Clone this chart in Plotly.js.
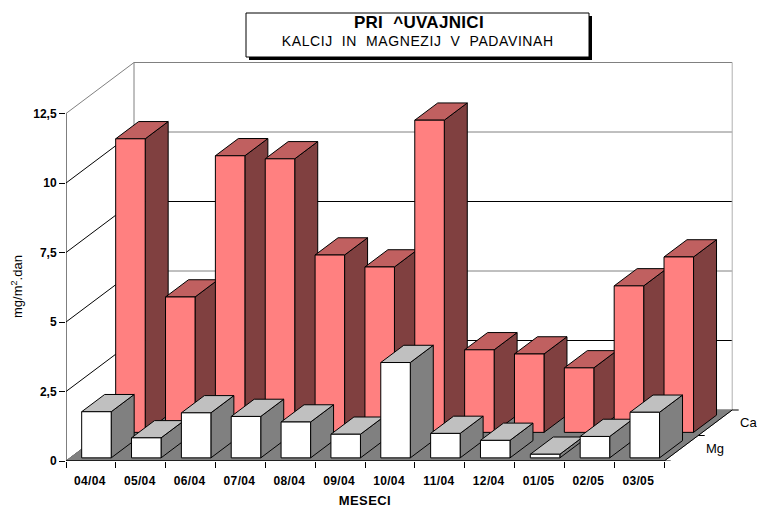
<!DOCTYPE html>
<html>
<head>
<meta charset="utf-8">
<script src="https://cdn.plot.ly/plotly-3.0.1.min.js"></script>
<style>html,body{margin:0;padding:0;background:#fff}#chart{width:757px;height:507px}.xtick text{letter-spacing:0.35px}</style>
</head>
<body>
<div id="chart"></div>
<script>
var categories = ["04/04","05/04","06/04","07/04","08/04","09/04","10/04","11/04","12/04","01/05","02/05","03/05"];
var caValues = [10.56,4.87,9.95,9.84,6.38,5.95,11.23,2.97,2.82,2.32,5.27,6.31];
var mgValues = [1.66,0.72,1.62,1.49,1.29,0.85,3.43,0.88,0.63,0.13,0.77,1.64];
var seriesNames = ["Mg","Ca"];
var yTickVals = [0,2.5,5,7.5,10,12.5];
var yTickText = ["0","2,5","5","7,5","10","12,5"];
var gridColors = ["#000000","#000000","#000000","#000000","#000000","#808080"];
var backGridColors = ["#808080","#000000","#808080","#000000","#808080","#808080"];

// oblique projection: one depth row shifts by these amounts in axis units
var plotW = 674, plotH = 411, pxPerCat = 49.85, pxPerVal = 27.8;
var rowDx = 34 / pxPerCat, rowDy = 25.5 / pxPerVal;
var barW = 0.592, barDepth = 0.676, barDrop = 1 / pxPerVal;
var nCat = categories.length, nRow = seriesNames.length;
function P(c, d, v) { return [c + d * rowDx, v + d * rowDy]; }

var traces = [];
function poly(pts, fill, stroke, width, name) {
  var tr = {type:'scatter', mode:'lines', hoverinfo:'skip', showlegend:false, name:name||'',
    x: pts.map(function(p){return p[0];}), y: pts.map(function(p){return p[1];}),
    line:{color:stroke, width:width, simplify:false}};
  if (fill) { tr.fill = 'toself'; tr.fillcolor = fill; }
  traces.push(tr);
}
function seg(a, b, color, width) { poly([a, b], null, color, width); }

// walls
yTickVals.forEach(function(v, i) {
  seg(P(0,0,v), P(0,nRow,v), gridColors[i], 1);
  seg(P(0,nRow,v), P(nCat,nRow,v), backGridColors[i], 1);
});
seg(P(0,nRow,0), P(0,nRow,12.5), "#808080", 1);
seg(P(nCat,nRow,0), P(nCat,nRow,12.5), "#b0b0b0", 1);
// floor
poly([P(0,0,0),P(nCat,0,0),P(nCat,nRow,0),P(0,nRow,0),P(0,0,0)], "#808080", "#808080", 1, "floor");
seg(P(nCat,0,0), P(nCat,nRow,0), "#000000", 1);

function drawRow(vals, row, front, side, top, label) {
  var m = (1 - barDepth) / 2, d0 = row + m, d1 = row + m + barDepth;
  vals.forEach(function(val, i) {
    var c0 = i + (1 - barW) / 2, c1 = c0 + barW;
    var b = -barDrop, v = val - barDrop;
    poly([P(c1,d0,b),P(c1,d1,b),P(c1,d1,v),P(c1,d0,v),P(c1,d0,b)], side, "#000000", 1, label+" side");
    poly([P(c0,d0,v),P(c1,d0,v),P(c1,d1,v),P(c0,d1,v),P(c0,d0,v)], top, "#000000", 1, label+" top");
    poly([P(c0,d0,b),P(c1,d0,b),P(c1,d0,v),P(c0,d0,v),P(c0,d0,b)], front, "#000000", 1, label);
  });
}
drawRow(caValues, 1, "#FF8080", "#804040", "#C06060", "Ca");
drawRow(mgValues, 0, "#FFFFFF", "#808080", "#C0C0C0", "Mg");

// axis lines
seg(P(0,0,0), P(0,0,12.5), "#000000", 1);
seg(P(0,0,0), P(nCat,0,0), "#000000", 1.5);
// depth ticks
[0,1,2].forEach(function(d) {
  var p = P(nCat,d,0);
  seg(p, [p[0] + 6.5/pxPerCat, p[1]], "#000000", 1);
});

var catCenters = categories.map(function(_, i){return i + 0.48;});
var catEdges = []; for (var i = 0; i <= nCat; i++) catEdges.push(i);
var font = "Liberation Sans, Arial, sans-serif";
var BASE = 461; // pixel row of the value axis zero

var layout = {
  width:757, height:507, showlegend:false,
  paper_bgcolor:"#fff", plot_bgcolor:"#fff",
  margin:{l:66, r:17, t:BASE-plotH, b:507-BASE, pad:0},
  font:{family:font, color:"#000"},
  xaxis:{range:[0, plotW/pxPerCat], showgrid:false, zeroline:false, showline:false,
    tickmode:'array', tickvals:catCenters, ticktext:categories,
    ticks:'outside', ticklen:9, tickcolor:'rgba(0,0,0,0)',
    tickfont:{family:font, size:12, color:"#000", weight:"bold"},
    minor:{tickmode:'array', tickvals:catEdges, ticks:'outside', ticklen:6, tickcolor:"#000", tickwidth:1, showgrid:false}},
  yaxis:{range:[0, plotH/pxPerVal], showgrid:false, zeroline:false, showline:false,
    tickmode:'array', tickvals:yTickVals, ticktext:yTickText,
    ticks:'outside', ticklen:6, tickcolor:"#000", tickwidth:1,
    tickfont:{family:font, size:12, color:"#000", weight:"bold"}},
  shapes:[
    {type:'rect', xref:'paper', yref:'paper', x0:(249-66)/plotW, x1:(592-66)/plotW, y0:(BASE-60)/plotH, y1:(BASE-16)/plotH, fillcolor:"#000", line:{width:0}},
    {type:'rect', xref:'paper', yref:'paper', x0:(246-66)/plotW, x1:(589-66)/plotW, y0:(BASE-57)/plotH, y1:(BASE-13)/plotH, fillcolor:"#fff", line:{color:"#000", width:1}}
  ],
  annotations:[
    {xref:'paper', yref:'paper', x:(418.5-66)/plotW, y:(BASE-23)/plotH, showarrow:false, xanchor:'center', yanchor:'middle',
      text:"<b>PRI  ^UVAJNICI</b>", font:{size:17, family:font, color:"#000"}},
    {xref:'paper', yref:'paper', x:(418-66)/plotW, y:(BASE-41)/plotH, showarrow:false, xanchor:'center', yanchor:'middle',
      text:"KALCIJ  IN  MAGNEZIJ  V  PADAVINAH", font:{size:14, family:font, color:"#000"}},
    {xref:'paper', yref:'paper', x:(17-66)/plotW, y:(BASE-287)/plotH, showarrow:false, textangle:-90, xanchor:'center', yanchor:'middle',
      text:"mg/m<sup>2</sup>.dan", font:{size:13, family:font, color:"#000"}},
    {xref:'paper', yref:'paper', x:(364.5-66)/plotW, y:(BASE-500.5)/plotH, showarrow:false, xanchor:'center', yanchor:'middle',
      text:"<b>MESECI</b>", font:{size:13, family:font, color:"#000"}},
    {x:P(nCat,0.5,0)[0], y:P(nCat,0.5,0)[1], xshift:34, showarrow:false, xanchor:'center', yanchor:'middle',
      text:seriesNames[0], font:{size:13, family:font, color:"#000"}},
    {x:P(nCat,1.5,0)[0], y:P(nCat,1.5,0)[1], xshift:33, showarrow:false, xanchor:'center', yanchor:'middle',
      text:seriesNames[1], font:{size:13, family:font, color:"#000"}}
  ]
};
Plotly.newPlot('chart', traces, layout, {displayModeBar:false, staticPlot:true}).then(function() {
  var a = document.querySelectorAll('#chart .annotation-text');
  if (a[0]) a[0].style.letterSpacing = '0.3px';
  if (a[1]) a[1].style.letterSpacing = '0.6px';
  if (a[3]) a[3].style.letterSpacing = '0.4px';
});
</script>
</body>
</html>
